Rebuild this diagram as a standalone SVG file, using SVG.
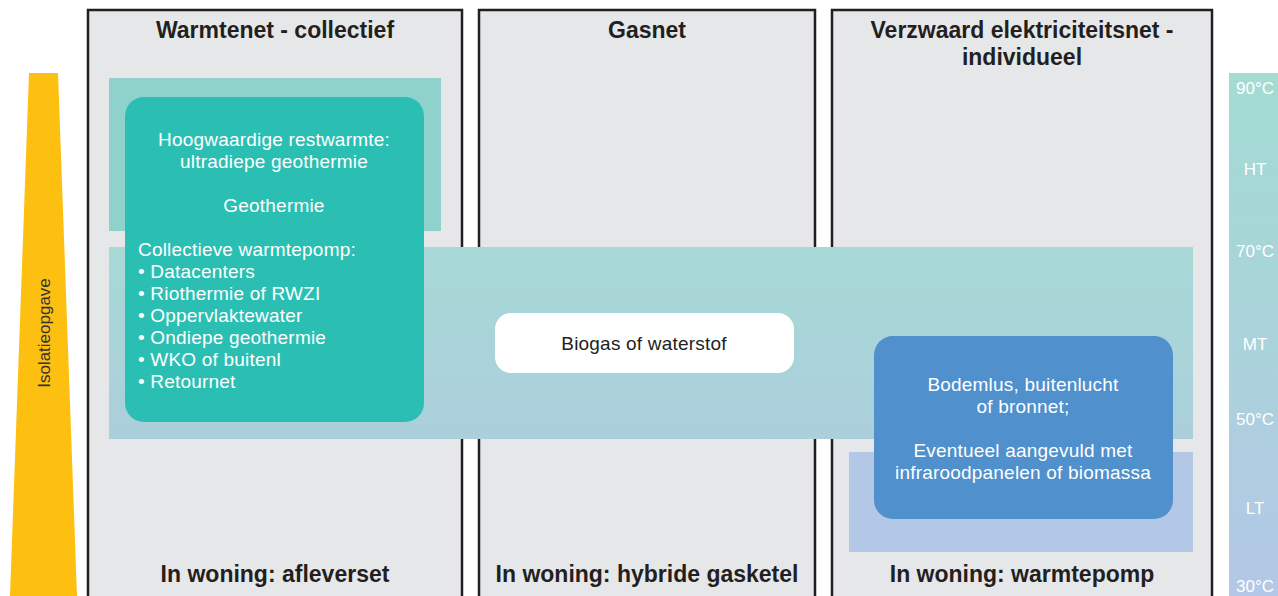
<svg xmlns="http://www.w3.org/2000/svg" width="1278" height="596" viewBox="0 0 1278 596">
  <defs>
    <linearGradient id="bandGrad" x1="0" y1="0" x2="0" y2="1">
      <stop offset="0" stop-color="#a7d9d6"/>
      <stop offset="1" stop-color="#abcfdc"/>
    </linearGradient>
    <linearGradient id="scaleGrad" x1="0" y1="0" x2="0" y2="1">
      <stop offset="0" stop-color="#a3dcd3"/>
      <stop offset="0.5" stop-color="#aad3da"/>
      <stop offset="1" stop-color="#b4c7e7"/>
    </linearGradient>
  </defs>
  <style>
    .col { fill: #e6e7e9; stroke: #231f20; stroke-width: 2.5; }
    .head { font-family: "Liberation Sans", Arial, sans-serif; font-weight: bold; font-size: 23px; fill: #231f20; text-anchor: middle; }
    .body { font-family: "Liberation Sans", Arial, sans-serif; font-size: 19px; fill: #ffffff; letter-spacing: 0.2px; }
    .mid { text-anchor: middle; }
    .dark { fill: #231f20; }
    .scale { font-family: "Liberation Sans", Arial, sans-serif; font-size: 17px; fill: #ffffff; text-anchor: middle; }
    .side { font-family: "Liberation Sans", Arial, sans-serif; font-size: 17px; fill: #333333; text-anchor: middle; }
  </style>
  <rect width="1278" height="596" fill="#ffffff"/>

  <!-- Isolation wedge -->
  <g id="isolatieopgave">
    <polygon points="29,73 58,73 77,596 10,596" fill="#fdc010"/>
    <text class="side" transform="translate(50,333) rotate(-90)">Isolatieopgave</text>
  </g>

  <!-- Columns -->
  <g id="col-warmtenet">
    <rect class="col" x="88" y="10" width="374" height="600"/>
    <text class="head" x="275" y="38">Warmtenet - collectief</text>
  </g>
  <g id="col-gasnet">
    <rect class="col" x="479" y="10" width="336" height="600"/>
    <text class="head" x="647" y="38">Gasnet</text>
  </g>
  <g id="col-elektriciteit">
    <rect class="col" x="832" y="10" width="380" height="600"/>
    <text class="head" x="1022" y="38">Verzwaard elektriciteitsnet -</text>
    <text class="head" x="1022" y="65">individueel</text>
  </g>

  <!-- Temperature bands -->
  <g id="band-ht">
    <rect x="109" y="78" width="332" height="153" fill="#8ed2cb"/>
  </g>
  <g id="band-mt">
    <rect x="109" y="247" width="1084" height="192" fill="url(#bandGrad)"/>
  </g>
  <g id="band-lt">
    <rect x="849" y="452" width="344" height="100" fill="#b3c8e6"/>
  </g>

  <!-- Temperature scale -->
  <g id="scale">
    <rect x="1229" y="73" width="49" height="523" fill="url(#scaleGrad)"/>
    <text class="scale" x="1255" y="94">90°C</text>
    <text class="scale" x="1255" y="175">HT</text>
    <text class="scale" x="1255" y="257">70°C</text>
    <text class="scale" x="1255" y="350">MT</text>
    <text class="scale" x="1255" y="425">50°C</text>
    <text class="scale" x="1255" y="514">LT</text>
    <text class="scale" x="1255" y="592">30°C</text>
  </g>

  <!-- Teal box -->
  <g id="node-warmtebronnen">
    <rect x="125" y="97" width="299" height="325" rx="19" fill="#2bbfb3"/>
    <text class="body mid" x="274" y="146">Hoogwaardige restwarmte:</text>
    <text class="body mid" x="274" y="168">ultradiepe geothermie</text>
    <text class="body mid" x="274" y="212">Geothermie</text>
    <text class="body" x="138" y="256">Collectieve warmtepomp:</text>
    <text class="body" x="138" y="278">• Datacenters</text>
    <text class="body" x="138" y="300">• Riothermie of RWZI</text>
    <text class="body" x="138" y="322">• Oppervlaktewater</text>
    <text class="body" x="138" y="344">• Ondiepe geothermie</text>
    <text class="body" x="138" y="366">• WKO of buitenl</text>
    <text class="body" x="138" y="388">• Retournet</text>
  </g>

  <!-- White box -->
  <g id="node-biogas">
    <rect x="495" y="313" width="299" height="60" rx="16" fill="#ffffff"/>
    <text class="body mid dark" x="644" y="350">Biogas of waterstof</text>
  </g>

  <!-- Blue box -->
  <g id="node-warmtepomp-bron">
    <rect x="874" y="336" width="299" height="183" rx="19" fill="#4f90cd"/>
    <text class="body mid" x="1023" y="391">Bodemlus, buitenlucht</text>
    <text class="body mid" x="1023" y="413">of bronnet;</text>
    <text class="body mid" x="1023" y="457">Eventueel aangevuld met</text>
    <text class="body mid" x="1023" y="479">infraroodpanelen of biomassa</text>
  </g>

  <!-- Bottom labels -->
  <g id="labels-woning">
    <text class="head" x="275" y="582">In woning: afleverset</text>
    <text class="head" x="647" y="582">In woning: hybride gasketel</text>
    <text class="head" x="1022" y="582">In woning: warmtepomp</text>
  </g>

  <g id="connectors"></g>
</svg>
